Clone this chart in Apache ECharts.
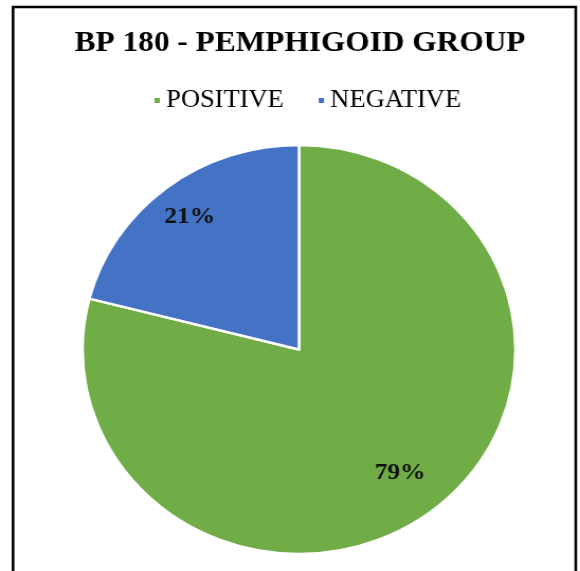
<!DOCTYPE html>
<html>
<head>
<meta charset="utf-8">
<script src="https://cdn.jsdelivr.net/npm/echarts@6/dist/echarts.min.js"></script>
<style>
  html, body { margin: 0; padding: 0; background: #fff; overflow: hidden; }
  #wrap { width: 580px; height: 571px; overflow: hidden; }
  /* the chart is drawn on a slightly narrower canvas and widened so the pie is a flat ellipse */
  #chart { width: 548px; height: 571px; transform: scaleX(1.0584); transform-origin: 0 0; }
</style>
</head>
<body>
<div id="wrap"><div id="chart"></div></div>
<script>
// Data
const chartTitle = 'BP 180 - PEMPHIGOID GROUP';
const categories = ['POSITIVE', 'NEGATIVE'];
const shares = [79, 21];
const sliceColors = ['#70AD47', '#4472C4'];

// Geometry of the pie (canvas pixels)
const pieCenter = [282.5, 349.5];
const pieRadius = 204.5;
// how far out along the radius each label sits (fraction of radius)
const labelRadiusRatio = [0.74, 0.80];

const chart = echarts.init(document.getElementById('chart'), null, { renderer: 'canvas' });

const option = {
  backgroundColor: '#ffffff',
  animation: false,
  title: {
    text: chartTitle,
    left: 278.5,
    textAlign: 'center',
    top: 23,
    textStyle: {
      fontFamily: 'Liberation Serif',
      fontWeight: 'bold',
      fontSize: 29.6,
      color: '#000000'
    }
  },
  legend: {
    data: categories,
    left: 139,
    top: 83,
    orient: 'horizontal',
    icon: 'rect',
    itemWidth: 7,
    itemHeight: 7,
    itemGap: 31,
    textStyle: {
      fontFamily: 'Liberation Serif',
      fontSize: 25,
      color: '#000000'
    }
  },
  graphic: [{
    type: 'rect',
    shape: { x: 12.3, y: 7, width: 531.7, height: 620 },
    style: { fill: 'none', stroke: '#000000', lineWidth: 2.6 },
    silent: true,
    z: 100
  }],
  series: [{
    type: 'pie',
    center: pieCenter,
    radius: pieRadius,
    startAngle: 90,
    clockwise: true,
    data: categories.map((name, i) => ({
      name: name,
      value: shares[i],
      itemStyle: { color: sliceColors[i] }
    })),
    itemStyle: { borderColor: '#ffffff', borderWidth: 2.5 },
    label: {
      show: true,
      position: 'inside',
      formatter: p => p.value + '%',
      fontFamily: 'Liberation Serif',
      fontWeight: 'bold',
      fontSize: 24,
      color: '#111111'
    },
    labelLine: { show: false },
    labelLayout: function (params) {
      const r = params.labelRect;
      const lx = r.x + r.width / 2;
      const ly = r.y + r.height / 2;
      const k = labelRadiusRatio[params.dataIndex] / 0.5 - 1;
      return { dx: (lx - pieCenter[0]) * k, dy: (ly - pieCenter[1]) * k };
    },
    emphasis: { disabled: true }
  }]
};

chart.setOption(option);
</script>
</body>
</html>
